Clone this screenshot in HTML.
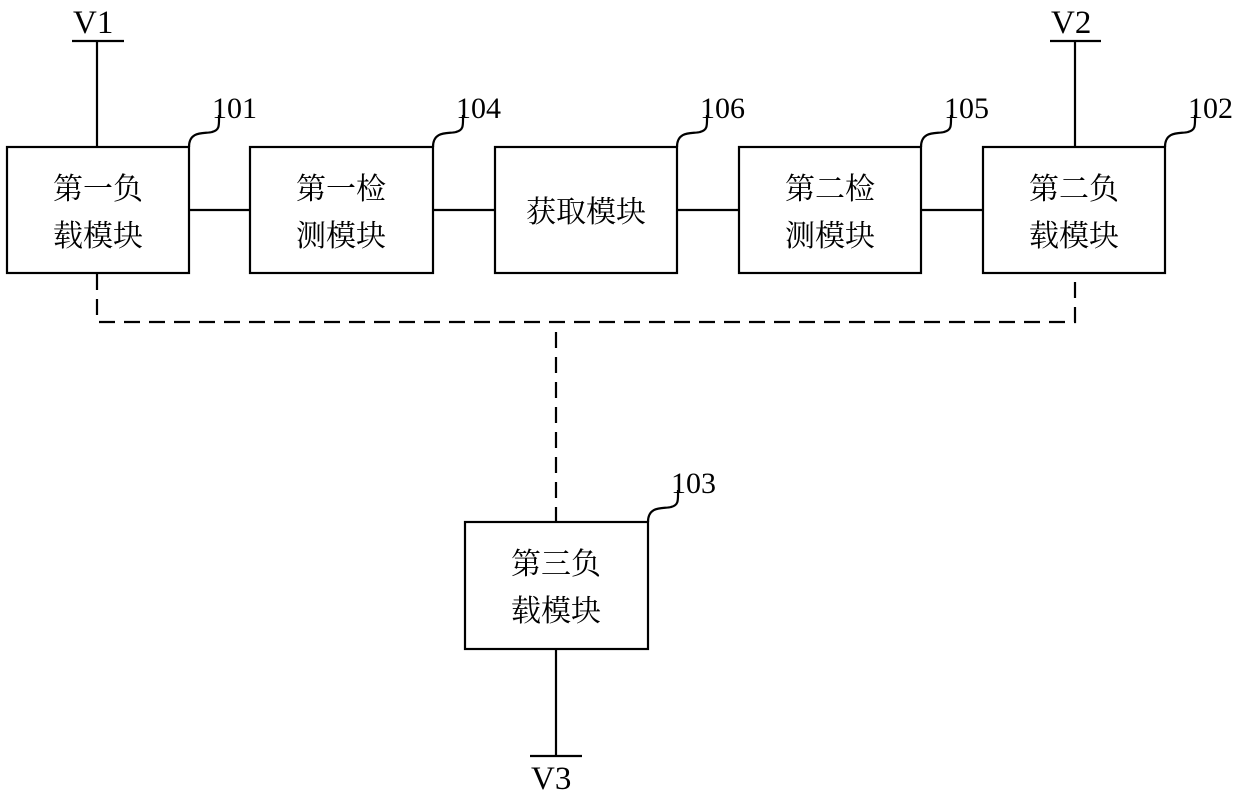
<!DOCTYPE html>
<html><head><meta charset="utf-8"><style>
body{margin:0;background:#fff}
svg{display:block}
.t{font-family:"Liberation Serif","Noto Serif CJK SC",serif;font-size:30px;fill:#000}
.v{font-family:"Liberation Serif",serif;font-size:33px;fill:#000}
.c{font-family:"Liberation Serif","Noto Serif CJK SC","Noto Sans CJK SC",serif;font-size:30px;fill:#000;text-anchor:middle}
</style></head><body>
<svg width="1240" height="795" viewBox="0 0 1240 795">
<g fill="none" stroke="#000" stroke-width="2.2">
<rect x="7" y="147" width="182" height="126"/>
<rect x="250" y="147" width="183" height="126"/>
<rect x="495" y="147" width="182" height="126"/>
<rect x="739" y="147" width="182" height="126"/>
<rect x="983" y="147" width="182" height="126"/>
<rect x="465" y="522" width="183" height="127"/>
<line x1="97" y1="41" x2="97" y2="147"/><line x1="72" y1="41" x2="124" y2="41"/>
<line x1="1075" y1="41" x2="1075" y2="147"/><line x1="1050" y1="41" x2="1101" y2="41"/>
<line x1="556" y1="649" x2="556" y2="756"/><line x1="530" y1="756" x2="582" y2="756"/>
<line x1="189" y1="210" x2="250" y2="210"/>
<line x1="433" y1="210" x2="495" y2="210"/>
<line x1="677" y1="210" x2="739" y2="210"/>
<line x1="921" y1="210" x2="983" y2="210"/>
<g stroke-dasharray="16,9">
<polyline points="97,274 97,322 1075,322 1075,274"/>
<line x1="556" y1="332" x2="556" y2="522"/>
</g>
<path d="M189,147 C189,130 205,134 212,132 C220,130 219,125 219,115"/>
<path d="M433,147 C433,130 449,134 456,132 C464,130 463,125 463,115"/>
<path d="M677,147 C677,130 693,134 700,132 C708,130 707,125 707,115"/>
<path d="M921,147 C921,130 937,134 944,132 C952,130 951,125 951,115"/>
<path d="M1165,147 C1165,130 1181,134 1188,132 C1196,130 1195,125 1195,115"/>
<path d="M648,522 C648,505 664,509 671,507 C679,505 678,500 678,490"/>
</g>
<text class="v" x="73" y="33">V1</text>
<text class="v" x="1051" y="33">V2</text>
<text class="v" x="531" y="789">V3</text>
<text class="t" x="212" y="118">101</text>
<text class="t" x="456" y="118">104</text>
<text class="t" x="700" y="118">106</text>
<text class="t" x="944" y="118">105</text>
<text class="t" x="1188" y="118">102</text>
<text class="t" x="671" y="493">103</text>
<text class="c" x="98" y="199">第一负</text><text class="c" x="98" y="246">载模块</text>
<text class="c" x="341" y="199">第一检</text><text class="c" x="341" y="246">测模块</text>
<text class="c" x="586" y="222">获取模块</text>
<text class="c" x="830" y="199">第二检</text><text class="c" x="830" y="246">测模块</text>
<text class="c" x="1074" y="199">第二负</text><text class="c" x="1074" y="246">载模块</text>
<text class="c" x="556" y="574">第三负</text><text class="c" x="556" y="621">载模块</text>
</svg>
</body></html>
